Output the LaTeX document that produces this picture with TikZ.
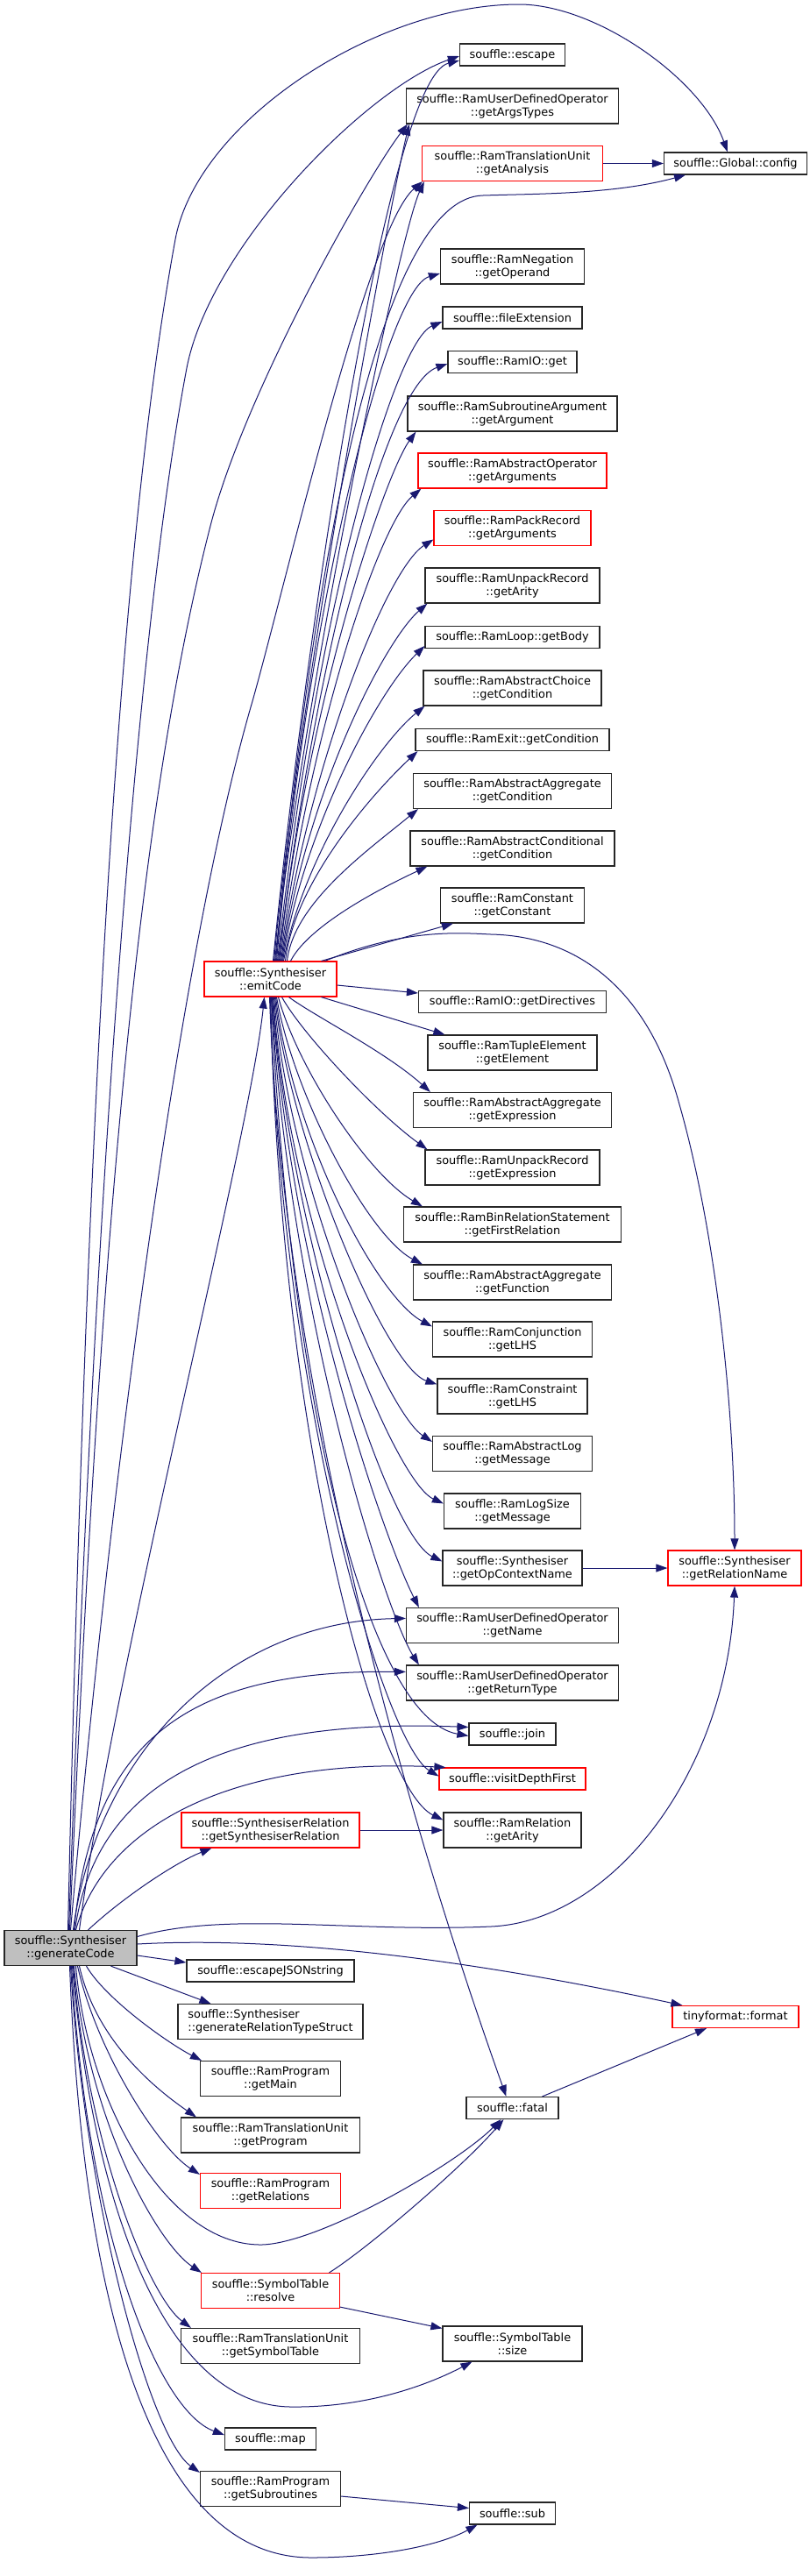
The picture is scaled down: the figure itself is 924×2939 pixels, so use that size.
\documentclass[tikz,border=0pt]{standalone}
\usepackage{fontspec}
\newfontfamily\dvs{DejaVu Sans}
\usetikzlibrary{arrows.meta}
\definecolor{edgecol}{HTML}{191970}
\definecolor{genfill}{HTML}{BFBFBF}
\begin{document}
\begin{tikzpicture}[x=1bp,y=1bp,
  nbox/.style={draw=black!85, line width=1.2bp, fill=white, inner sep=0pt, align=center,
    font={\dvs\fontsize{12.9bp}{15bp}\selectfont}},
  rbox/.style={nbox, draw=red},
  gbox/.style={nbox, fill=genfill},
  wd/.style={minimum width=#1bp},
  h1/.style={minimum height=25bp},
  h2/.style={minimum height=40bp},
  ed/.style={draw=edgecol, line width=1bp, -{Triangle[length=13bp,width=9bp]}}]
\fill[white] (0,0) rectangle (924,-2939);
\useasboundingbox (0,0) rectangle (924,-2939);
% nodes
\node[nbox,wd=120,h1] (escape) at (584.5,-62.5) {souffle::escape};
\node[nbox,wd=242,h2] (argtypes) at (584.5,-121) {souffle::RamUserDefinedOperator\\::getArgsTypes};
\node[rbox,wd=206,h2] (analysis) at (584.5,-186.5) {souffle::RamTranslationUnit\\::getAnalysis};
\node[nbox,wd=163,h1] (config) at (839,-186.5) {souffle::Global::config};
\node[nbox,wd=164,h2] (operand) at (584.5,-304) {souffle::RamNegation\\::getOperand};
\node[nbox,wd=159,h1] (fileext) at (584.5,-362.5) {souffle::fileExtension};
\node[nbox,wd=147,h1] (ioget) at (584.5,-413) {souffle::RamIO::get};
\node[nbox,wd=239,h2] (argument) at (584.5,-472) {souffle::RamSubroutineArgument\\::getArgument};
\node[rbox,wd=215,h2] (absargs) at (584.5,-537) {souffle::RamAbstractOperator\\::getArguments};
\node[rbox,wd=179,h2] (packargs) at (584.5,-602.5) {souffle::RamPackRecord\\::getArguments};
\node[nbox,wd=199,h2] (unpackarity) at (584.5,-668) {souffle::RamUnpackRecord\\::getArity};
\node[nbox,wd=199,h1] (body) at (584.5,-727) {souffle::RamLoop::getBody};
\node[nbox,wd=203,h2] (choicecond) at (584.5,-785) {souffle::RamAbstractChoice\\::getCondition};
\node[nbox,wd=221,h1] (exitcond) at (584.5,-844) {souffle::RamExit::getCondition};
\node[nbox,wd=226,h2] (aggcond) at (584.5,-902.5) {souffle::RamAbstractAggregate\\::getCondition};
\node[nbox,wd=233,h2] (condcond) at (584.5,-968) {souffle::RamAbstractConditional\\::getCondition};
\node[nbox,wd=164,h2] (constant) at (584.5,-1033) {souffle::RamConstant\\::getConstant};
\node[rbox,wd=151,h2] (emit) at (308.5,-1117) {souffle::Synthesiser\\::emitCode};
\node[nbox,wd=214,h1] (directives) at (584.5,-1143) {souffle::RamIO::getDirectives};
\node[nbox,wd=193,h2] (element) at (584.5,-1201) {souffle::RamTupleElement\\::getElement};
\node[nbox,wd=226,h2] (aggexpr) at (584.5,-1266.5) {souffle::RamAbstractAggregate\\::getExpression};
\node[nbox,wd=199,h2] (unpackexpr) at (584.5,-1332) {souffle::RamUnpackRecord\\::getExpression};
\node[nbox,wd=248,h2] (firstrel) at (584.5,-1397) {souffle::RamBinRelationStatement\\::getFirstRelation};
\node[nbox,wd=226,h2] (aggfunc) at (584.5,-1463) {souffle::RamAbstractAggregate\\::getFunction};
\node[nbox,wd=182,h2] (conjlhs) at (584.5,-1528) {souffle::RamConjunction\\::getLHS};
\node[nbox,wd=171,h2] (constrlhs) at (584.5,-1593) {souffle::RamConstraint\\::getLHS};
\node[nbox,wd=182,h2] (logmsg) at (584.5,-1658.5) {souffle::RamAbstractLog\\::getMessage};
\node[nbox,wd=156,h2] (logsizemsg) at (584.5,-1724) {souffle::RamLogSize\\::getMessage};
\node[nbox,wd=159,h2] (opctx) at (584.5,-1789) {souffle::Synthesiser\\::getOpContextName};
\node[rbox,wd=152,h2] (relname) at (838,-1789) {souffle::Synthesiser\\::getRelationName};
\node[nbox,wd=242,h2] (udname) at (584.5,-1854.5) {souffle::RamUserDefinedOperator\\::getName};
\node[nbox,wd=242,h2] (udret) at (584.5,-1920) {souffle::RamUserDefinedOperator\\::getReturnType};
\node[nbox,wd=99,h1] (join) at (584.5,-1978.5) {souffle::join};
\node[rbox,wd=167,h1] (visit) at (584.5,-2029.5) {souffle::visitDepthFirst};
\node[nbox,wd=157,h2] (relarity) at (584.5,-2088) {souffle::RamRelation\\::getArity};
\node[rbox,wd=203,h2] (synrel) at (308.5,-2088) {souffle::SynthesiserRelation\\::getSynthesiserRelation};
\node[gbox,wd=151,h2] (gen) at (80.5,-2222.5) {souffle::Synthesiser\\::generateCode};
\node[nbox,wd=191,h1] (escjson) at (308.5,-2248.5) {souffle::escapeJSONstring};
\node[nbox,wd=211,h2,align=left] (reltype) at (308.5,-2306.5) {souffle::Synthesiser\\::generateRelationTypeStruct};
\node[rbox,wd=144,h1] (format) at (839,-2301) {tinyformat::format};
\node[nbox,wd=160,h2] (getmain) at (308.5,-2371.5) {souffle::RamProgram\\::getMain};
\node[nbox,wd=105,h1] (fatal) at (584.5,-2405) {souffle::fatal};
\node[nbox,wd=204,h2] (getprogram) at (308.5,-2436) {souffle::RamTranslationUnit\\::getProgram};
\node[rbox,wd=160,h2] (getrelations) at (308.5,-2499.5) {souffle::RamProgram\\::getRelations};
\node[rbox,wd=158,h2] (resolve) at (308.5,-2613.5) {souffle::SymbolTable\\::resolve};
\node[nbox,wd=204,h2] (symtab) at (308.5,-2676.5) {souffle::RamTranslationUnit\\::getSymbolTable};
\node[nbox,wd=159,h2] (size) at (584.5,-2674) {souffle::SymbolTable\\::size};
\node[nbox,wd=104,h1] (map) at (308.5,-2782.5) {souffle::map};
\node[nbox,wd=160,h2] (subroutines) at (308.5,-2839.5) {souffle::RamProgram\\::getSubroutines};
\node[nbox,wd=98,h1] (sub) at (584.5,-2867.5) {souffle::sub};
% emitCode upward fan
\draw[ed] ([xshift=3bp]emit.north) .. controls (345,-760) and (440,-90) .. ([yshift=-6.5bp]escape.west);
\draw[ed] ([xshift=4bp]emit.north) .. controls (340,-800) and (445,-230) .. ([xshift=4bp]argtypes.south west);
\draw[ed] ([xshift=5bp]emit.north) .. controls (345,-800) and (455,-270) .. ([xshift=3bp]analysis.south west);
\draw[ed] ([xshift=6bp]emit.north) .. controls (360,-600) and (440,-225) .. (551,-223) .. controls (610,-221) and (700,-222) .. ([xshift=-57bp]config.south);
\draw[ed] ([xshift=7bp]emit.north) .. controls (350,-700) and (440,-330) .. ([yshift=-8bp]operand.west);
\draw[ed] ([xshift=8bp]emit.north) .. controls (360,-700) and (450,-390) .. ([yshift=-4.5bp]fileext.west);
\draw[ed] ([xshift=9bp]emit.north) .. controls (360,-750) and (440,-440) .. ([yshift=-2bp]ioget.west);
\draw[ed] ([xshift=10bp]emit.north) .. controls (350,-800) and (440,-540) .. ([xshift=10bp]argument.south west);
\draw[ed] ([xshift=11bp]emit.north) .. controls (350,-850) and (430,-600) .. ([xshift=4bp]absargs.south west);
\draw[ed] ([xshift=12bp]emit.north) .. controls (350,-880) and (440,-650) .. ([yshift=-13bp]packargs.west);
\draw[ed] ([xshift=13bp]emit.north) .. controls (350,-900) and (440,-730) .. ([xshift=3bp]unpackarity.south west);
\draw[ed] ([xshift=14bp]emit.north) .. controls (345,-950) and (430,-790) .. ([yshift=-10bp]body.west);
\draw[ed] ([xshift=15bp]emit.north) .. controls (345,-980) and (430,-850) .. ([xshift=2bp]choicecond.south west);
\draw[ed] ([xshift=17bp]emit.north) .. controls (335,-1010) and (420,-910) .. ([xshift=3bp]exitcond.south west);
\draw[ed] ([xshift=19bp]emit.north) .. controls (335,-1030) and (420,-970) .. ([xshift=6bp]aggcond.south west);
\draw[ed] ([xshift=23bp]emit.north) .. controls (350,-1060) and (420,-1020) .. ([xshift=20bp]condcond.south west);
\draw[ed] ([xshift=58bp]emit.north) -- ([xshift=15bp]constant.south west);
\draw[ed] ([xshift=62bp]emit.north) .. controls (460,-1060) and (520,-1064) .. (560,-1066) .. controls (660,-1068) and (740,-1130) .. (775,-1260) .. controls (815,-1400) and (838,-1600) .. (relname.north);
% emitCode downward fan
\draw[ed] ([yshift=-7bp]emit.east) -- ([yshift=10bp]directives.west);
\draw[ed] ([xshift=58bp]emit.south) -- ([xshift=20bp]element.north west);
\draw[ed] ([xshift=21bp]emit.south) .. controls (360,-1160) and (440,-1200) .. ([xshift=20bp]aggexpr.north west);
\draw[ed] ([xshift=13bp]emit.south) .. controls (345,-1180) and (430,-1270) .. ([xshift=3bp]unpackexpr.north west);
\draw[ed] ([xshift=9bp]emit.south) .. controls (340,-1220) and (420,-1340) .. ([xshift=22bp]firstrel.north west);
\draw[ed] ([xshift=7bp]emit.south) .. controls (335,-1250) and (420,-1410) .. ([xshift=11bp]aggfunc.north west);
\draw[ed] ([xshift=6bp]emit.south) .. controls (335,-1300) and (430,-1480) .. ([yshift=-6bp]conjlhs.north west);
\draw[ed] ([xshift=5bp]emit.south) .. controls (330,-1300) and (440,-1560) .. ([yshift=-7bp]constrlhs.north west);
\draw[ed] ([xshift=4bp]emit.south) .. controls (330,-1350) and (440,-1610) .. ([yshift=-7bp]logmsg.north west);
\draw[ed] ([xshift=3bp]emit.south) .. controls (330,-1400) and (450,-1690) .. ([yshift=-12bp]logsizemsg.north west);
\draw[ed] ([xshift=2bp]emit.south) .. controls (330,-1400) and (440,-1750) .. ([yshift=-13bp]opctx.north west);
\draw[ed] ([xshift=2bp]emit.south) .. controls (330,-1450) and (440,-1760) .. ([xshift=15bp]udname.north west);
\draw[ed] ([xshift=1bp]emit.south) .. controls (330,-1500) and (440,-1840) .. ([xshift=15bp]udret.north west);
\draw[ed] ([xshift=1bp]emit.south) .. controls (330,-1600) and (420,-1960) .. ([yshift=-2bp]join.west);
\draw[ed] (emit.south) .. controls (320,-1600) and (440,-1990) .. ([yshift=3bp]visit.west);
\draw[ed] (emit.south) .. controls (320,-1650) and (430,-2040) .. ([yshift=-9bp]relarity.north west);
\draw[ed] ([xshift=-1bp]emit.south) .. controls (320,-1500) and (420,-1950) .. ([xshift=-7bp]fatal.north);
% generateCode upward
\draw[ed] ([xshift=10bp]gen.north) .. controls (130,-1900) and (285,-1300) .. ([xshift=-7bp]emit.south);
\draw[ed] ([xshift=-3bp]gen.north) .. controls (100,-1200) and (140,-600) .. (200,-273) .. controls (225,-138) and (430,-5) .. (592,-5) .. controls (680,-5) and (800,-90) .. ([xshift=-9bp]config.north);
\draw[ed] ([xshift=-2bp]gen.north) .. controls (110,-1300) and (160,-700) .. (213,-420) .. controls (240,-280) and (420,-100) .. ([yshift=-1.5bp]escape.west);
\draw[ed] ([xshift=-1bp]gen.north) .. controls (110,-1500) and (150,-950) .. (240,-600) .. controls (280,-445) and (420,-200) .. ([xshift=2bp]argtypes.south west);
\draw[ed] (gen.north) .. controls (120,-1750) and (200,-1100) .. (288,-800) .. controls (330,-650) and (420,-260) .. ([xshift=1bp]analysis.south west);
\draw[ed] ([xshift=3bp]gen.north) .. controls (110,-2000) and (260,-1850) .. ([yshift=-12.5bp]udname.north west);
\draw[ed] ([xshift=4bp]gen.north) .. controls (105,-1980) and (220,-1905) .. ([yshift=-8bp]udret.north west);
\draw[ed] ([xshift=5bp]gen.north) .. controls (110,-2030) and (260,-1960) .. ([yshift=8bp]join.west);
\draw[ed] ([xshift=6bp]gen.north) .. controls (120,-2080) and (270,-2005) .. ([xshift=8bp]visit.north west);
\draw[ed] ([xshift=20bp]gen.north) .. controls (140,-2165) and (200,-2125) .. ([xshift=35bp]synrel.south west);
% generateCode right
\draw[ed] ([yshift=13bp]gen.east) .. controls (260,-2180) and (400,-2205) .. (560,-2198) .. controls (700,-2192) and (830,-2020) .. (relname.south);
\draw[ed] ([yshift=4.5bp]gen.east) .. controls (300,-2210) and (500,-2228) .. ([xshift=12bp]format.north west);
\draw[ed] ([yshift=-8.5bp]gen.east) -- ([yshift=9.5bp]escjson.west);
% generateCode downward
\draw[ed] ([xshift=46bp]gen.south) -- ([xshift=38bp]reltype.north west);
\draw[ed] ([xshift=18bp]gen.south) .. controls (120,-2280) and (190,-2330) .. ([xshift=2bp]getmain.north west);
\draw[ed] ([xshift=10bp]gen.south) .. controls (110,-2330) and (180,-2385) .. ([xshift=18bp]getprogram.north west);
\draw[ed] ([xshift=8bp]gen.south) .. controls (110,-2340) and (180,-2450) .. ([yshift=-2bp]getrelations.north west);
\draw[ed] ([xshift=6bp]gen.south) .. controls (100,-2400) and (190,-2560) .. (296,-2561) .. controls (360,-2562) and (520,-2470) .. ([xshift=-13bp]fatal.south);
\draw[ed] ([xshift=4bp]gen.south) .. controls (100,-2420) and (180,-2560) .. ([xshift=1bp]resolve.north west);
\draw[ed] ([xshift=3bp]gen.south) .. controls (100,-2450) and (170,-2620) .. ([xshift=12bp]symtab.north west);
\draw[ed] ([xshift=2bp]gen.south) .. controls (110,-2550) and (200,-2745) .. (332,-2746) .. controls (420,-2747) and (490,-2720) .. ([xshift=-46bp]size.south);
\draw[ed] ([xshift=1bp]gen.south) .. controls (100,-2550) and (180,-2750) .. ([yshift=4.5bp]map.west);
\draw[ed] (gen.south) .. controls (95,-2500) and (170,-2780) .. ([yshift=-2bp]subroutines.north west);
\draw[ed] ([xshift=-1bp]gen.south) .. controls (95,-2650) and (180,-2918) .. (355,-2918) .. controls (430,-2918) and (500,-2905) .. ([xshift=-40bp]sub.south);
% other edges
\draw[ed] (analysis.east) -- (config.west);
\draw[ed] (opctx.east) -- (relname.west);
\draw[ed] (synrel.east) -- (relarity.west);
\draw[ed] ([xshift=67bp]resolve.north) .. controls (420,-2565) and (530,-2470) .. ([xshift=-10bp]fatal.south);
\draw[ed] ([yshift=2bp]resolve.south east) -- ([yshift=-3bp]size.north west);
\draw[ed] ([yshift=-8.5bp]subroutines.east) -- ([yshift=6bp]sub.west);
\draw[ed] ([xshift=34bp]fatal.north) -- ([xshift=-33bp]format.south);
\end{tikzpicture}
\end{document}
